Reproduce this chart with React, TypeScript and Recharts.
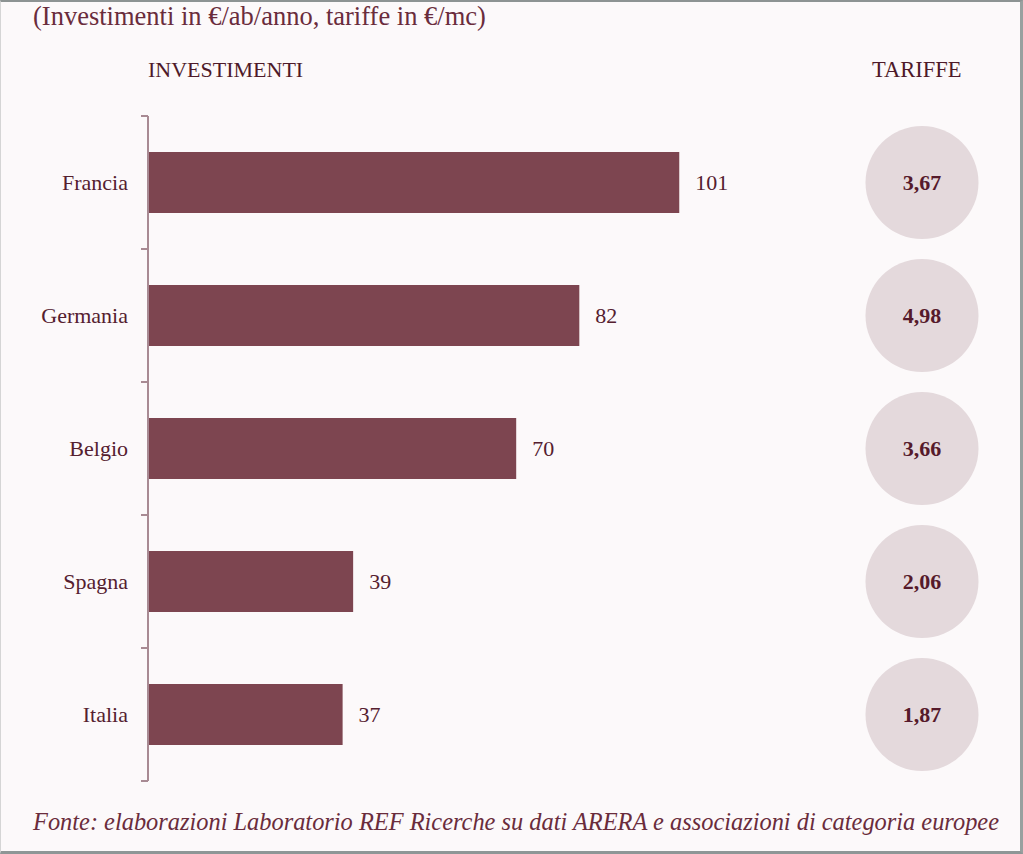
import React from 'react';
import { BarChart, Bar, XAxis, YAxis, LabelList } from 'recharts';

const paesi = ['Francia', 'Germania', 'Belgio', 'Spagna', 'Italia'];
const investimenti = [101, 82, 70, 39, 37];
const tariffe = ['3,67', '4,98', '3,66', '2,06', '1,87'];

const data = paesi.map((p, i) => ({ paese: p, investimenti: investimenti[i], tariffa: tariffe[i] }));

const FONT = '"Liberation Serif", "DejaVu Serif", serif';
const BAR = '#7d4550';
const TEXT = '#55202f';
const AXIS = '#a88a93';
const CIRCLE = '#e4d9dc';
const CIRCLE_X = 922;

const W = 1023;
const H = 854;
const MARGIN = { top: 116, right: 86, bottom: 73, left: 0 };
const BAND = (H - MARGIN.top - MARGIN.bottom) / paesi.length;

const CategoryTick = (props: any) => {
  const { x, y, payload, index } = props;
  return (
    <g>
      <text x={x - 20} y={y} dy={7} textAnchor="end" fontFamily={FONT} fontSize={22} fill={TEXT}>
        {payload.value}
      </text>
      <line x1={x - 7} x2={x} y1={y - BAND / 2} y2={y - BAND / 2} stroke={AXIS} strokeWidth={2} />
      {index === paesi.length - 1 && (
        <line x1={x - 7} x2={x} y1={y + BAND / 2} y2={y + BAND / 2} stroke={AXIS} strokeWidth={2} />
      )}
    </g>
  );
};

const TariffaCircle = (props: any) => {
  const { y, height, value } = props;
  const cy = y + height / 2;
  return (
    <g>
      <circle cx={CIRCLE_X} cy={cy} r={56.5} fill={CIRCLE} />
      <text x={CIRCLE_X} y={cy} dy={7} textAnchor="middle" fontFamily={FONT} fontSize={22} fontWeight="bold" fill="#561a2b">
        {value}
      </text>
    </g>
  );
};

export default function App() {
  return (
    <div style={{ position: 'absolute', left: 0, top: 0, width: W, height: H, background: '#fcf9fa', overflow: 'hidden', fontFamily: FONT }}>
      <div style={{ position: 'absolute', left: 33, top: 1, fontSize: 26.5, color: '#6a2c3c', whiteSpace: 'nowrap' }}>
        (Investimenti in €/ab/anno, tariffe in €/mc)
      </div>
      <div style={{ position: 'absolute', left: 148, top: 57, fontSize: 22, color: '#4e1a29', whiteSpace: 'nowrap' }}>INVESTIMENTI</div>
      <div style={{ position: 'absolute', left: 872, top: 57, fontSize: 22.5, color: '#4e1a29', whiteSpace: 'nowrap' }}>TARIFFE</div>
      <div style={{ position: 'absolute', left: 0, top: 0 }}>
        <BarChart width={W} height={H} data={data} layout="vertical" margin={MARGIN}>
          <XAxis type="number" domain={[0, 150]} hide />
          <YAxis
            type="category"
            dataKey="paese"
            width={148}
            axisLine={{ stroke: AXIS, strokeWidth: 2 }}
            tickLine={false}
            tickSize={0}
            tickMargin={0}
            tick={CategoryTick}
            interval={0}
          />
          <Bar dataKey="investimenti" fill={BAR} barSize={61} isAnimationActive={false}>
            <LabelList dataKey="investimenti" position="right" offset={16} fill={TEXT} fontSize={22} fontFamily={FONT} />
            <LabelList dataKey="tariffa" content={TariffaCircle} />
          </Bar>
        </BarChart>
      </div>
      <div style={{ position: 'absolute', left: 33, top: 808, fontSize: 24.4, fontStyle: 'italic', color: '#6a2c3c', whiteSpace: 'nowrap' }}>
        Fonte: elaborazioni Laboratorio REF Ricerche su dati ARERA e associazioni di categoria europee
      </div>
      <div style={{ position: 'absolute', left: 0, top: 0, width: W, height: H, boxSizing: 'border-box', borderTop: '2px solid #8d9393', borderRight: '3px solid #98a09f', borderBottom: '3px solid #8e9696', borderLeft: '1px solid #d5d5d5', pointerEvents: 'none' }} />
    </div>
  );
}
